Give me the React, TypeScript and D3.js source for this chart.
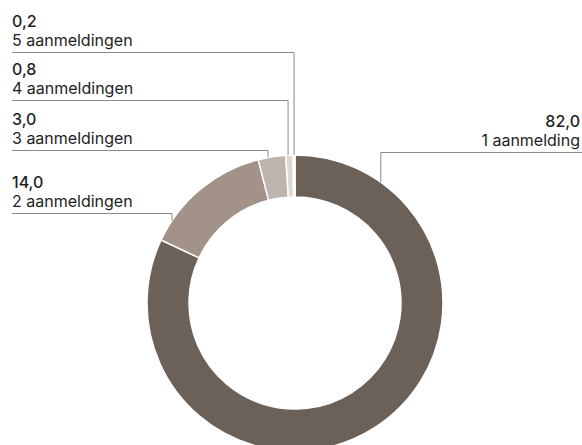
import * as d3 from 'd3'

// share of reports (%) by number of registrations
const categories = ['1 aanmelding', '2 aanmeldingen', '3 aanmeldingen', '4 aanmeldingen', '5 aanmeldingen']
const shares = [82.0, 14.0, 3.0, 0.8, 0.2]
const shareLabels = ['82,0', '14,0', '3,0', '0,8', '0,2']
const sliceColors = ['#6b6159', '#a39288', '#bdb4ad', '#dcd8d4', '#e6e3e0']

const width = 582
const height = 445

export default function App() {
  const cx = 295
  const cy = 303
  const outerR = 148
  const innerR = 106

  const pie = d3.pie<number>().sort(null).value(d => d)
  const arcs = pie(shares)
  const arc = d3.arc<d3.PieArcDatum<number>>().innerRadius(innerR).outerRadius(outerR)

  // label layout: where each leader's horizontal runs, and where on the slice it lands
  const lineY = [152, 213, 150, 100, 52]
  const anchorFrac = [0.12, 0.17, 0.36, 0.32, 0.5]

  const font = 'Inter, "Noto Sans", sans-serif'

  return (
    <svg width={width} height={height} style={{ position: 'absolute', left: 0, top: 0 }}>
      <g transform={`translate(${cx},${cy})`}>
        {arcs.map((a, i) => (
          <path key={i} d={arc(a) ?? ''} fill={sliceColors[i]} stroke="#fff" strokeWidth={1.5} />
        ))}
      </g>
      {arcs.map((a, i) => {
        const ang = a.startAngle + (a.endAngle - a.startAngle) * anchorFrac[i]
        const ax = cx + outerR * Math.sin(ang)
        const ay = cy - outerR * Math.cos(ang)
        const ly = lineY[i]
        const right = i === 0
        const x0 = right ? width : 12
        const tx = right ? 580 : 12
        return (
          <g key={i}>
            <path
              d={`M${x0},${ly + 0.5}H${ax}V${ay}`}
              fill="none"
              stroke="#8a8a8a"
              strokeWidth={1}
            />
            <text x={tx} y={ly - 25} textAnchor={right ? 'end' : 'start'} fontFamily={font} fontSize={16} fontWeight={500} fill="#1e1e1e">
              {shareLabels[i]}
            </text>
            <text x={tx} y={ly - 6} textAnchor={right ? 'end' : 'start'} fontFamily={font} fontSize={16} fill="#1e1e1e">
              {categories[i]}
            </text>
          </g>
        )
      })}
    </svg>
  )
}
